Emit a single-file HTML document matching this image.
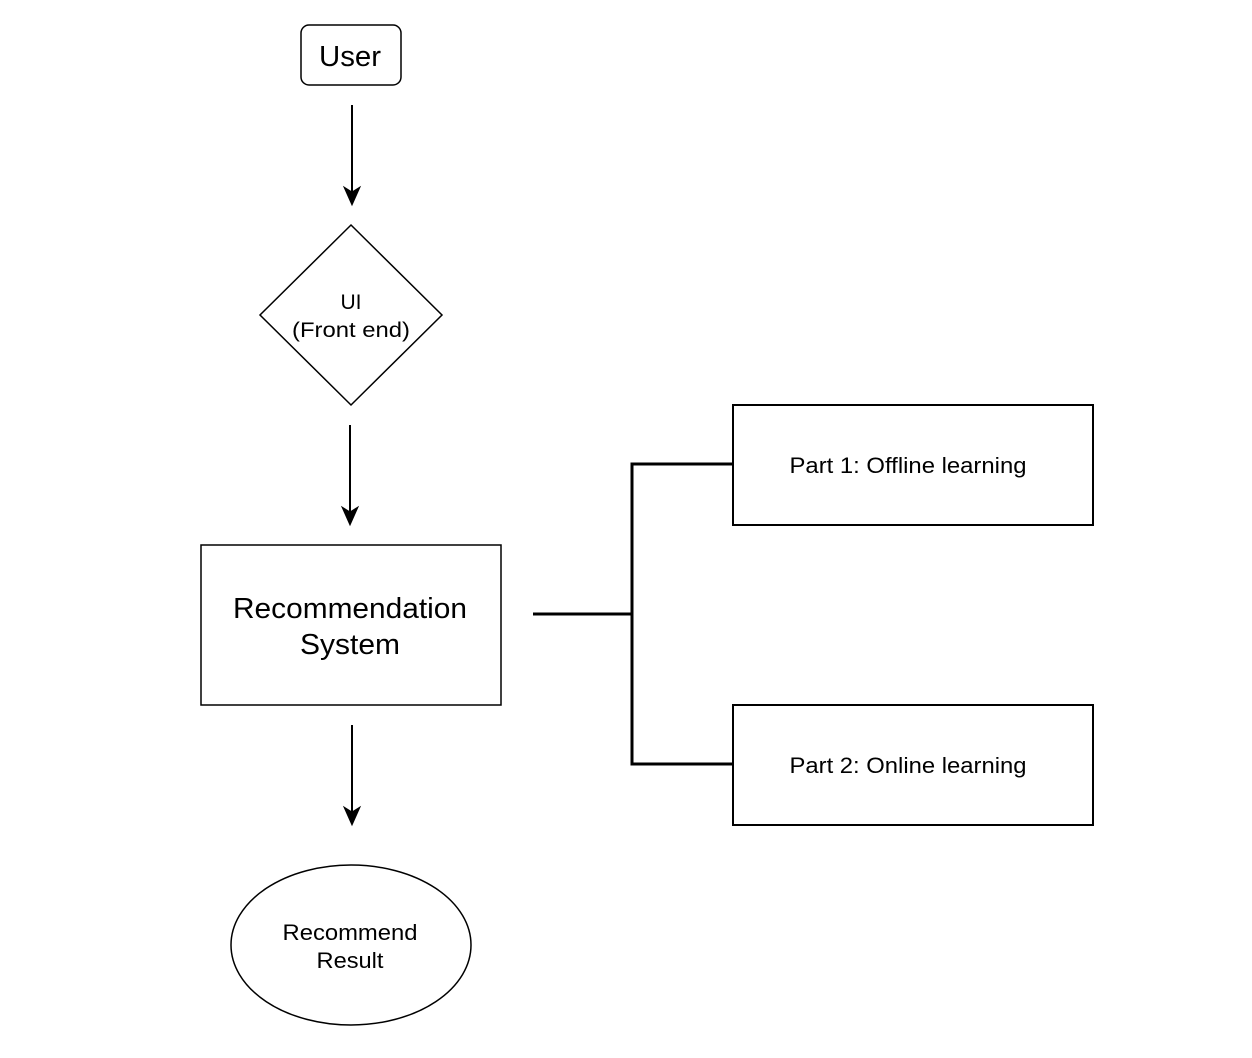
<!DOCTYPE html>
<html><head><style>html,body{margin:0;padding:0;background:#fff;}svg{display:block;}</style></head>
<body>
<svg width="1252" height="1058" viewBox="0 0 1252 1058" xmlns="http://www.w3.org/2000/svg" font-family="Liberation Sans, Arial, sans-serif" fill="none" stroke="#000">
<rect x="301" y="25" width="100" height="60" rx="8" stroke-width="1.5"/>
<text x="350" y="66" font-size="29" text-anchor="middle" fill="#000" stroke="none" textLength="62" lengthAdjust="spacingAndGlyphs">User</text>
<line x1="352" y1="105" x2="352" y2="192" stroke-width="2"/>
<path d="M344 187 L352 205 L360 187 L352 192 Z" fill="#000" stroke="#000" stroke-width="1"/>
<path d="M351 225 L442 315 L351 405 L260 315 Z" stroke-width="1.5"/>
<text x="351" y="309" font-size="21" text-anchor="middle" fill="#000" stroke="none">UI</text>
<text x="351" y="337" font-size="21" text-anchor="middle" fill="#000" stroke="none" textLength="118" lengthAdjust="spacingAndGlyphs">(Front end)</text>
<line x1="350" y1="425" x2="350" y2="512" stroke-width="2"/>
<path d="M342 507 L350 525 L358 507 L350 512 Z" fill="#000" stroke="#000" stroke-width="1"/>
<rect x="201" y="545" width="300" height="160" stroke-width="1.5"/>
<text x="350" y="618" font-size="29" text-anchor="middle" fill="#000" stroke="none" textLength="234" lengthAdjust="spacingAndGlyphs">Recommendation</text>
<text x="350" y="654" font-size="29" text-anchor="middle" fill="#000" stroke="none" textLength="100" lengthAdjust="spacingAndGlyphs">System</text>
<line x1="352" y1="725" x2="352" y2="812" stroke-width="2"/>
<path d="M344 807 L352 825 L360 807 L352 812 Z" fill="#000" stroke="#000" stroke-width="1"/>
<ellipse cx="351" cy="945" rx="120" ry="80" stroke-width="1.5"/>
<text x="350" y="940" font-size="22" text-anchor="middle" fill="#000" stroke="none" textLength="135" lengthAdjust="spacingAndGlyphs">Recommend</text>
<text x="350" y="968" font-size="22" text-anchor="middle" fill="#000" stroke="none" textLength="67" lengthAdjust="spacingAndGlyphs">Result</text>
<path d="M533 614 L632 614" stroke-width="3"/>
<path d="M733 464 L632 464 L632 764 L733 764" stroke-width="3" stroke-linejoin="miter"/>
<rect x="733" y="405" width="360" height="120" stroke-width="2"/>
<text x="908" y="473" font-size="22" text-anchor="middle" fill="#000" stroke="none" textLength="237" lengthAdjust="spacingAndGlyphs">Part 1: Offline learning</text>
<rect x="733" y="705" width="360" height="120" stroke-width="2"/>
<text x="908" y="773" font-size="22" text-anchor="middle" fill="#000" stroke="none" textLength="237" lengthAdjust="spacingAndGlyphs">Part 2: Online learning</text>
</svg>
</body></html>
